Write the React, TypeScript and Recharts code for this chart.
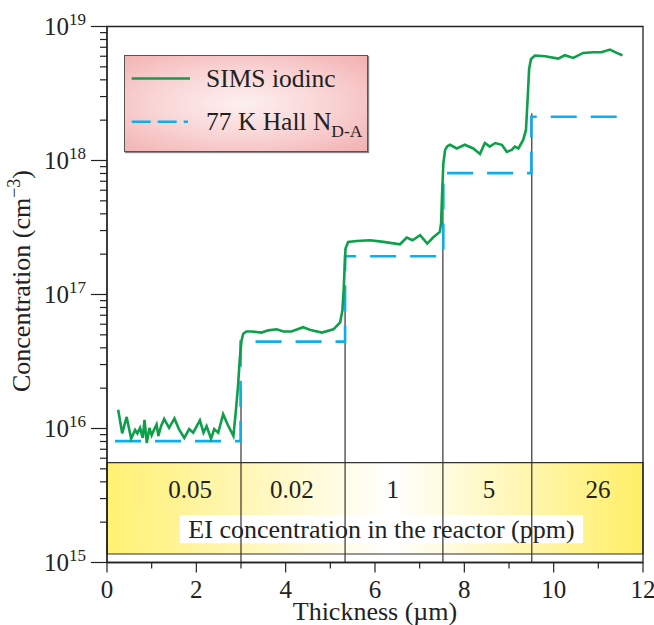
import React from 'react';
import {
  ComposedChart,
  Line,
  XAxis,
  YAxis,
  ReferenceArea,
  ReferenceLine,
  ReferenceDot,
  Legend,
} from 'recharts';

const FONT = 'Liberation Serif, DejaVu Serif, serif';
const INK = '#222222';
const GREEN = '#0e9f4a';
const BLUE = '#0daeea';

// SIMS iodine profile (thickness µm, concentration cm^-3)
const simsX = [
  0.25, 0.34, 0.44, 0.54, 0.63, 0.68, 0.74, 0.8, 0.84, 0.89, 0.95, 1.0, 1.06, 1.11, 1.15, 1.21,
  1.28, 1.39, 1.51, 1.61, 1.73, 1.84, 1.93, 2.08, 2.16, 2.23, 2.33, 2.4, 2.49, 2.6, 2.7, 2.83,
  2.88, 2.93, 2.97, 3.01, 3.05, 3.12, 3.24, 3.46, 3.61, 3.8, 3.95, 4.13, 4.39, 4.58, 4.81, 5.07,
  5.22, 5.27, 5.3, 5.32, 5.34, 5.4, 5.59, 5.89, 6.19, 6.56, 6.71, 6.84, 7.01, 7.17, 7.3, 7.45,
  7.48, 7.5, 7.53, 7.57, 7.62, 7.68, 7.83, 8.01, 8.2, 8.35, 8.46, 8.57, 8.69, 8.84, 8.95, 9.06,
  9.13, 9.21, 9.32, 9.38, 9.42, 9.45, 9.49, 9.58, 9.81, 10.1, 10.25, 10.44, 10.66, 10.89, 11.07,
  11.26, 11.41, 11.54,
];
const simsY = [
  1.38e16, 9.2e15, 1.22e16, 8.4e15, 9.75e15, 9.2e15, 1.01e16, 8.5e15, 1.16e16, 7.8e15, 1.01e16,
  8.9e15, 9.9e15, 1.07e16, 8.8e15, 1.04e16, 1.18e16, 1.01e16, 1.19e16, 9.9e15, 8.5e15, 9.9e15,
  9.3e15, 1.15e16, 9.3e15, 1.04e16, 8.4e15, 9.9e15, 9.3e15, 1.28e16, 1.07e16, 8.8e15,
  1.3e16, 2.0e16, 3.2e16, 4.5e16, 5.1e16, 5.3e16, 5.3e16, 5.2e16, 5.4e16, 5.5e16, 5.3e16, 5.3e16,
  5.7e16, 5.4e16, 5.2e16, 5.5e16, 6.2e16, 7.6e16, 1.1e17, 1.6e17, 2.2e17, 2.47e17, 2.51e17,
  2.54e17, 2.47e17, 2.37e17, 2.66e17, 2.54e17, 2.77e17, 2.4e17, 2.66e17, 2.93e17,
  3.4e17, 5.4e17, 9.5e17, 1.2e18, 1.28e18, 1.31e18, 1.23e18, 1.31e18, 1.23e18, 1.12e18, 1.35e18,
  1.27e18, 1.35e18, 1.31e18, 1.16e18, 1.2e18, 1.27e18, 1.23e18, 1.43e18, 1.69e18, 3.0e18,
  4.8e18, 5.7e18, 6.07e18, 6.0e18, 5.76e18, 6.1e18, 5.83e18, 6.35e18, 6.42e18, 6.42e18,
  6.73e18, 6.35e18, 6.1e18,
];

// 77 K Hall N_D-A (step profile)
const hallX = [0.18, 2.99, 2.99, 5.33, 5.33, 7.53, 7.53, 9.5, 9.5, 11.55];
const hallY = [8.05e15, 8.05e15, 4.45e16, 4.45e16, 1.93e17, 1.93e17, 8.05e17, 8.05e17, 2.12e18, 2.12e18];

const simsData = simsX.map((x, i) => ({ x, y: simsY[i] }));
const hallData = hallX.map((x, i) => ({ x, y: hallY[i] }));

// layer interfaces
const interfaceX = [3.0, 5.33, 7.52, 9.51];
const interfaceTop = [2.0e16, 1.0e17, 6.3e17, 2.25e18];

// reactor band
const reactorLabels = ['0.05', '0.02', '1', '5', '26'];
const reactorLabelX = [1.86, 4.14, 6.4, 8.55, 10.99];
const reactorLabelY = 3.54e15;
const bandBottom = 1.157e15;
const bandTop = 5.56e15;
const captionX = [1.63, 10.66];
const captionY = [1.39e15, 2.26e15];
const captionText = 'EI concentration in the reactor (ppm)';

const xTicks = [0, 1, 2, 3, 4, 5, 6, 7, 8, 9, 10, 11, 12];
const yExps = [15, 16, 17, 18];
const yMant = [1, 2, 3, 4, 5, 6, 7, 8, 9];
const yTicks = [...yExps.flatMap((e) => yMant.map((m) => m * Math.pow(10, e))), 1e19];

const simsName = 'SIMS iodinc';
const hallName = '77 K Hall N';
const hallSub = 'D-A';

const txt = { fontFamily: FONT } as React.CSSProperties;

const XTick = (props: any) => {
  const { x, y, payload } = props;
  const v = payload.value;
  const major = v % 2 === 0;
  return (
    <g>
      <line x1={x} x2={x} y1={y} y2={y + (major ? 10 : 6)} stroke={INK} strokeWidth={1.2} />
      {major && (
        <text x={x} y={y + 35.5} textAnchor="middle" style={txt} fontSize={25} fill={INK}>
          {v}
        </text>
      )}
    </g>
  );
};

const YTick = (props: any) => {
  const { x, y, payload } = props;
  const v = payload.value;
  const lg = Math.log10(v);
  const e = Math.round(lg);
  const major = Math.abs(lg - e) < 1e-9;
  return (
    <g>
      <line x1={x - (major ? 16 : 7)} x2={x} y1={y} y2={y} stroke={INK} strokeWidth={1.2} />
      {major && (
        <text x={x - 21} y={y + 8} textAnchor="end" style={txt} fontSize={25} fill={INK}>
          <tspan>10</tspan>
          <tspan fontSize={17} dy={-9.5}>
            {e}
          </tspan>
        </text>
      )}
    </g>
  );
};

const XLabel = (props: any) => {
  const vb = props.viewBox || { x: 107, y: 562.5, width: 536 };
  return (
    <text x={vb.x + vb.width / 2} y={562.5 + 57} textAnchor="middle" style={txt} fontSize={26} fill={INK}>
      Thickness (µm)
    </text>
  );
};

const YLabel = () => (
  <text transform="translate(30,281) rotate(-90)" textAnchor="middle" style={txt} fontSize={26} fill={INK}>
    Concentration (cm
    <tspan fontSize={18} dy={-10}>
      −3
    </tspan>
    <tspan dy={10}>)</tspan>
  </text>
);

const LegendBox = () => (
  <div
    style={{
      width: 244,
      height: 97,
      boxSizing: 'border-box',
      border: '1px solid #555',
      boxShadow: '1px 1px 1px #888',
      background: 'radial-gradient(ellipse at 48% 50%, #fdf0f0 0%, #f9d4d4 50%, #f3b0b0 100%)',
    }}
  >
    <svg width={242} height={95} style={{ display: 'block' }}>
      <line x1={6.7} x2={65} y1={22.5} y2={22.5} stroke={GREEN} strokeWidth={2.6} />
      <text x={81} y={30.7} style={txt} fontSize={25.5} fill={INK}>
        {simsName}
      </text>
      <line x1={6.7} x2={63} y1={65.7} y2={65.7} stroke={BLUE} strokeWidth={2.6} strokeDasharray="19 7" />
      <text x={81} y={74} style={txt} fontSize={25.5} fill={INK}>
        {hallName}
        <tspan fontSize={17.5} dy={6.7}>
          {hallSub}
        </tspan>
      </text>
    </svg>
  </div>
);

export default function App() {
  return (
    <div style={{ position: 'absolute', left: 0, top: 0, fontFamily: FONT }}>
      <ComposedChart
        width={654}
        height={625}
        margin={{ top: 26.5, right: 11, bottom: 61.5, left: 106 }}
        style={{ fontFamily: FONT }}
      >
        <defs>
          <linearGradient id="bandGrad" x1="0" y1="0" x2="1" y2="0">
            <stop offset="0%" stopColor="#fff173" />
            <stop offset="25%" stopColor="#fff6b4" />
            <stop offset="53%" stopColor="#ffffff" />
            <stop offset="78%" stopColor="#fff6b0" />
            <stop offset="100%" stopColor="#ffef66" />
          </linearGradient>
        </defs>
        <XAxis
          dataKey="x"
          type="number"
          domain={[0, 12]}
          ticks={xTicks}
          interval={0}
          allowDataOverflow
          tickSize={0}
          tickMargin={0}
          tickLine={false}
          tick={(p: any) => <XTick {...p} />}
          axisLine={{ stroke: INK, strokeWidth: 1.3 }}
          height={1}
          label={<XLabel />}
        />
        <YAxis
          dataKey="y"
          type="number"
          scale="log"
          domain={[1e15, 1e19]}
          ticks={yTicks}
          interval={0}
          allowDataOverflow
          tickSize={0}
          tickMargin={0}
          tickLine={false}
          tick={(p: any) => <YTick {...p} />}
          axisLine={{ stroke: INK, strokeWidth: 1.3 }}
          width={1}
          label={<YLabel />}
        />
        <ReferenceArea
          x1={0}
          x2={12}
          y1={bandBottom}
          y2={bandTop}
          fill="url(#bandGrad)"
          fillOpacity={1}
          stroke="#333"
          strokeWidth={1.2}
        />
        {interfaceX.map((x, i) => (
          <ReferenceLine
            key={'if' + i}
            segment={[
              { x, y: 1e15 },
              { x, y: interfaceTop[i] },
            ]}
            stroke="#333"
            strokeWidth={1.2}
          />
        ))}
        <ReferenceArea
          x1={captionX[0]}
          x2={captionX[1]}
          y1={captionY[0]}
          y2={captionY[1]}
          fill="#ffffff"
          fillOpacity={1}
          stroke="none"
          label={{ value: captionText, position: 'center', fontSize: 26, style: txt, fill: INK }}
        />
        {reactorLabels.map((t, i) => (
          <ReferenceDot
            key={'rl' + i}
            x={reactorLabelX[i]}
            y={reactorLabelY}
            r={0}
            fill="none"
            stroke="none"
            label={{ value: t, position: 'center', fontSize: 25, style: txt, fill: INK }}
          />
        ))}
        <ReferenceArea
          x1={0}
          x2={12}
          y1={1e15}
          y2={1e19}
          fill="none"
          stroke={INK}
          strokeWidth={1.3}
        />
        <Line
          data={hallData}
          dataKey="y"
          name={hallName + hallSub}
          type="linear"
          stroke={BLUE}
          strokeWidth={2.6}
          strokeDasharray="26 14"
          dot={false}
          activeDot={false}
          isAnimationActive={false}
        />
        <Line
          data={simsData}
          dataKey="y"
          name={simsName}
          type="linear"
          stroke={GREEN}
          strokeWidth={2.6}
          dot={false}
          activeDot={false}
          isAnimationActive={false}
        />
        <Legend
          layout="vertical"
          align="center"
          verticalAlign="middle"
          content={<LegendBox />}
          wrapperStyle={{ left: 124, top: 55, width: 244, height: 97, margin: 0, padding: 0, lineHeight: 0 }}
        />
      </ComposedChart>
    </div>
  );
}
